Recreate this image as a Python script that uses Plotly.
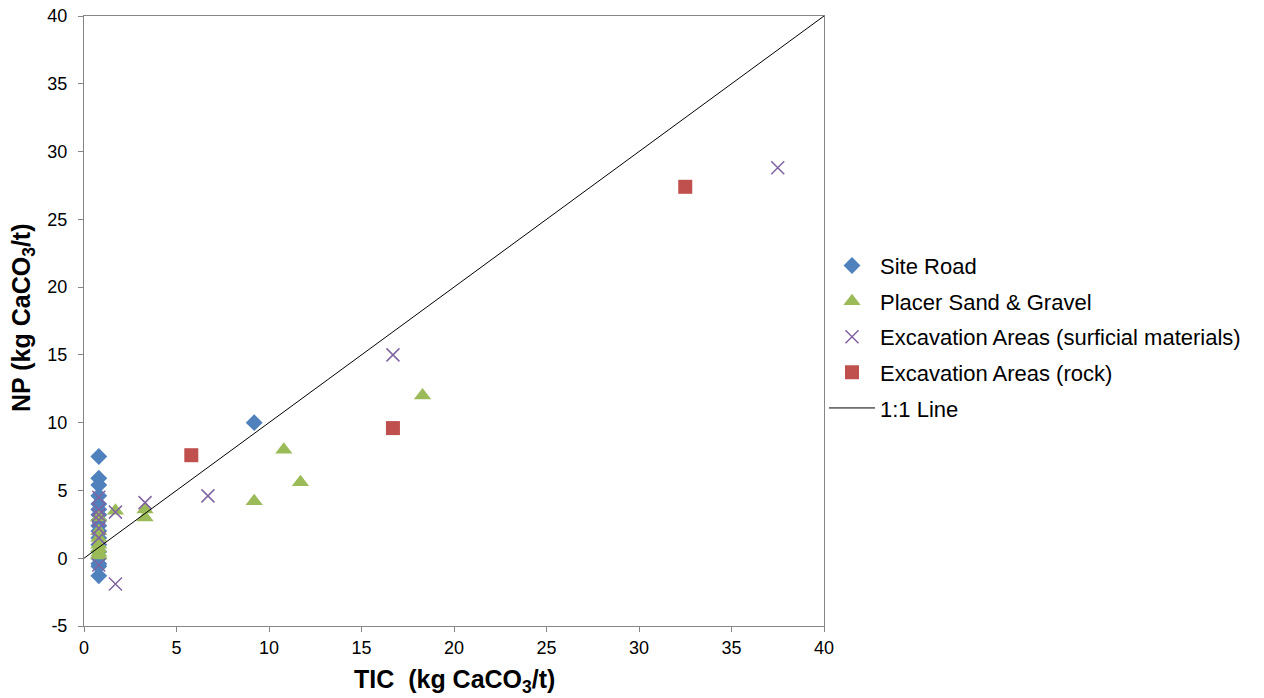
import plotly.graph_objects as go

# Site Road
road_x = [0.8]*17 + [9.2]
road_y = [7.5, 5.9, 5.4, 4.6, 4.0, 3.6, 3.2, 2.8, 2.4, 2.0, 1.5, 1.0, 0.5, 0.0, -0.4, -0.6, -1.3, 10.0]

# Placer Sand & Gravel
placer_x = [0.8, 0.8, 0.8, 0.8, 0.8, 0.8, 0.8, 1.7, 3.3, 3.3, 9.2, 10.8, 11.7, 18.3]
placer_y = [3.0, 2.0, 1.5, 1.0, 0.7, 0.4, 0.2, 3.5, 3.6, 3.0, 4.2, 8.0, 5.6, 12.0]

# Excavation Areas (surficial materials)
surf_x = [0.8, 0.8, 0.8, 0.8, 0.8, 0.8, 0.8, 1.7, 1.7, 3.3, 6.7, 16.7, 37.5]
surf_y = [4.5, 3.6, 3.2, 2.8, 2.2, 1.5, -0.5, 3.4, -1.9, 4.1, 4.6, 15.0, 28.8]

# Excavation Areas (rock)
rock_x = [5.8, 16.7, 32.5]
rock_y = [7.6, 9.6, 27.4]

# 1:1 line
line_x = [0, 40]
line_y = [0, 40]

# Tick labels
y_tickvals = [-5, 0, 5, 10, 15, 20, 25, 30, 35, 40]
y_ticktext = ["-5", "0", "5", "10", "15", "20", "25", "30", "35", "40"]

FONT = "Liberation Sans, Arial"

fig = go.Figure()
fig.add_trace(go.Scatter(x=road_x, y=road_y, mode="markers", name="Site Road", legendgroup="a",
                         marker=dict(symbol="diamond", size=13, color="#4F81BD")))
fig.add_trace(go.Scatter(x=placer_x, y=placer_y, mode="markers", name="Placer Sand & Gravel", legendgroup="b",
                         marker=dict(symbol="triangle-up", size=15, color="#9BBB59")))
fig.add_trace(go.Scatter(x=surf_x, y=surf_y, mode="markers", name="Excavation Areas (surficial materials)",
                         legendgroup="c",
                         marker=dict(symbol="x-thin", size=13, color="#8064A2",
                                     line=dict(width=1.5, color="#8064A2"))))
fig.add_trace(go.Scatter(x=rock_x, y=rock_y, mode="markers", name="Excavation Areas (rock)", legendgroup="d",
                         marker=dict(symbol="square", size=14, color="#C0504D")))
fig.add_trace(go.Scatter(x=line_x, y=line_y, mode="lines", name="1:1 Line", legendgroup="e",
                         line=dict(color="black", width=1)))

axis_common = dict(showline=True, linecolor="#868686", linewidth=1, mirror=True,
                   ticks="outside", ticklen=5, tickcolor="#868686", showgrid=False,
                   zeroline=False, tickfont=dict(family=FONT, size=18, color="black"))

fig.update_layout(
    width=1264, height=698,
    margin=dict(l=84, r=440, t=16, b=72, autoexpand=False),
    paper_bgcolor="white", plot_bgcolor="white",
    font=dict(family=FONT, color="black"),
    xaxis=dict(range=[0, 40], dtick=5, **axis_common),
    yaxis=dict(range=[-5, 40], tickmode="array", tickvals=y_tickvals, ticktext=y_ticktext,
               ticklabelstandoff=7, **axis_common),
    legend=dict(x=1.0, y=0.625, xanchor="left", yanchor="top",
                font=dict(size=22, family=FONT),
                bgcolor="rgba(0,0,0,0)", tracegroupgap=4, itemwidth=46),
    showlegend=True,
    annotations=[
        dict(text="<b>TIC&nbsp;&nbsp;(kg CaCO<sub>3</sub>/t)</b>", xref="paper", yref="paper",
             x=0.5, y=0, xanchor="center", yanchor="top", yshift=-37, showarrow=False,
             font=dict(size=25, family=FONT, color="black")),
        dict(text="<b>NP (kg CaCO<sub>3</sub>/t)</b>", xref="paper", yref="paper",
             x=0, y=0.505, xanchor="center", yanchor="middle", xshift=-61, textangle=-90,
             showarrow=False, font=dict(size=25, family=FONT, color="black")),
    ],
)

fig.write_html("out.html")
